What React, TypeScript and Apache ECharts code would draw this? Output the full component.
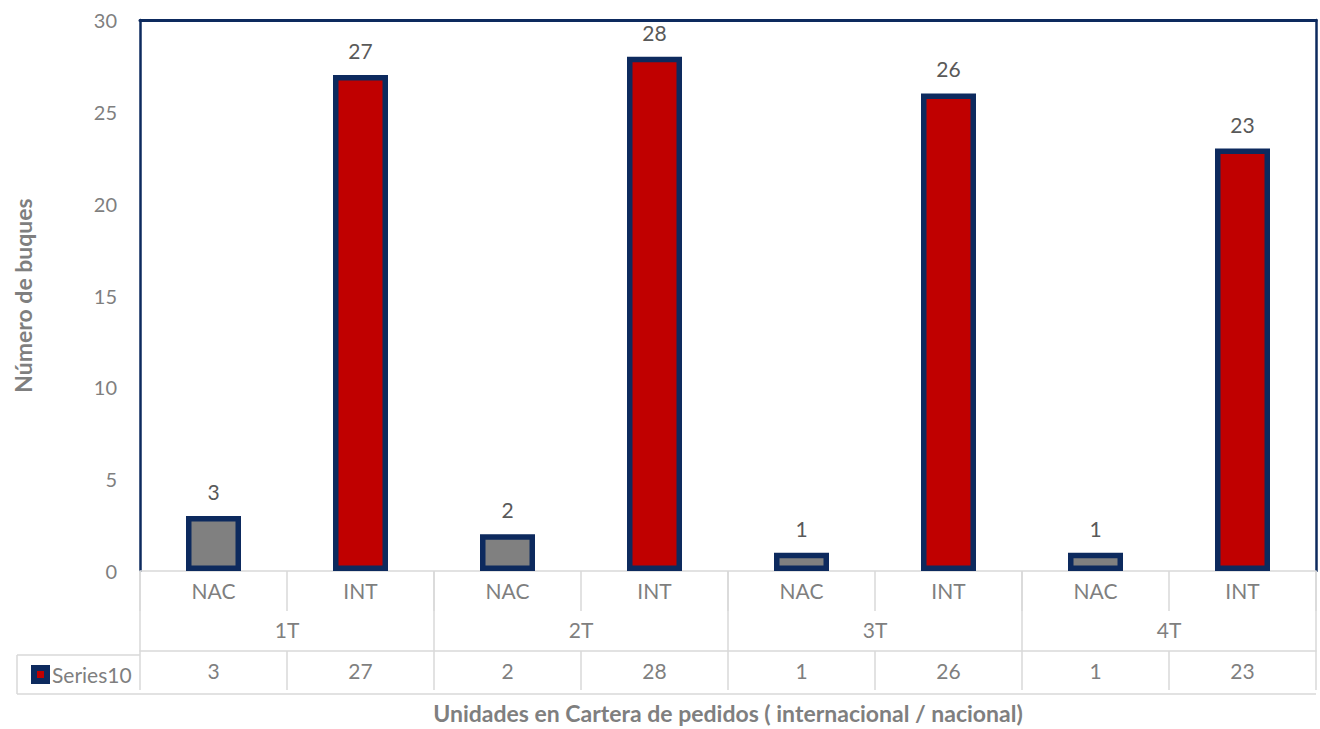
import React, { useEffect, useRef } from "react";
import * as echarts from "echarts";

const categories = ["NAC", "INT", "NAC", "INT", "NAC", "INT", "NAC", "INT"];
const groups = ["1T", "2T", "3T", "4T"];
const values = [3, 27, 2, 28, 1, 26, 1, 23];
const seriesName = "Series10";
const yTicks = { min: 0, max: 30, interval: 5 };

const NAVY = "#0d2a5e";
const RED = "#c00000";
const GREY = "#808080";
const LINE = "#d9d9d9";
const TEXT = "#7f7f7f";
const FONT = "Lato, 'Noto Sans', sans-serif";

export default function App() {
  const ref = useRef<HTMLDivElement>(null);
  useEffect(() => {
    if (!ref.current) return;
    const chart = echarts.init(ref.current, null, { renderer: "svg" });
    const L = 140, R = 1316, T = 20, B = 575;
    const option: any = {
      animation: false,
      backgroundColor: "#ffffff",
      textStyle: { fontFamily: FONT },
      grid: { left: L, right: 1320 - R, top: T, bottom: 729 - B, containLabel: false },
      legend: {
        left: 26,
        top: 659,
        itemWidth: 13,
        itemHeight: 13,
        itemGap: 6,
        icon: "rect",
        data: [
          {
            name: seriesName,
            itemStyle: { color: RED, borderColor: NAVY, borderWidth: 6 },
          },
        ],
        textStyle: { color: TEXT, fontSize: 21, fontFamily: FONT },
      },
      xAxis: [
        {
          type: "category",
          data: categories,
          position: "bottom",
          axisLine: { show: true, lineStyle: { color: LINE, width: 1.5 } },
          axisTick: { show: true, length: 40, lineStyle: { color: LINE, width: 1.5 } },
          axisLabel: { color: TEXT, fontSize: 21, margin: 9, fontFamily: FONT },
          splitLine: { show: false },
        },
        {
          type: "category",
          data: groups,
          position: "bottom",
          axisLine: { show: false },
          axisTick: { show: true, length: 80, lineStyle: { color: LINE, width: 1.5 } },
          axisLabel: { color: TEXT, fontSize: 21, margin: 48, fontFamily: FONT },
          splitLine: { show: false },
        },
        {
          type: "category",
          data: categories,
          position: "bottom",
          offset: 80,
          axisLine: { show: true, lineStyle: { color: LINE, width: 1.5 } },
          axisTick: { show: true, length: 39, lineStyle: { color: LINE, width: 1.5 } },
          axisLabel: {
            color: TEXT,
            fontSize: 21,
            margin: 9,
            fontFamily: FONT,
            formatter: (_v: string, i: number) => String(values[i]),
          },
          name: "Unidades en Cartera de pedidos ( internacional / nacional)",
          nameLocation: "middle",
          nameGap: 50,
          nameTextStyle: { color: TEXT, fontSize: 23, fontWeight: "bold", fontFamily: FONT },
          splitLine: { show: false },
        },
        {
          type: "category",
          data: categories,
          position: "top",
          axisLine: { show: true, lineStyle: { color: NAVY, width: 3 } },
          axisTick: { show: false },
          axisLabel: { show: false },
          splitLine: { show: false },
        },
      ],
      yAxis: [
        {
          type: "value",
          min: yTicks.min,
          max: yTicks.max,
          interval: yTicks.interval,
          axisLine: { show: true, lineStyle: { color: NAVY, width: 2.5 } },
          axisTick: { show: false },
          splitLine: { show: false },
          axisLabel: { color: TEXT, fontSize: 20, margin: 23, fontFamily: FONT },
          name: "Número de buques",
          nameLocation: "middle",
          nameRotate: 90,
          nameGap: 106,
          nameTextStyle: { color: TEXT, fontSize: 23, fontWeight: "bold", fontFamily: FONT },
        },
        {
          type: "value",
          position: "right",
          min: yTicks.min,
          max: yTicks.max,
          interval: yTicks.interval,
          axisLine: { show: true, lineStyle: { color: NAVY, width: 2.5 } },
          axisTick: { show: false },
          splitLine: { show: false },
          axisLabel: { show: false },
        },
      ],
      series: [
        {
          name: seriesName,
          type: "bar",
          xAxisIndex: 0,
          yAxisIndex: 0,
          barWidth: 55,
          itemStyle: { color: RED, borderColor: NAVY, borderWidth: 5.5 },
          data: values.map((v, i) => ({
            value: v,
            itemStyle: { color: categories[i] === "NAC" ? GREY : RED },
          })),
          label: {
            show: true,
            position: "top",
            distance: 14,
            color: "#595959",
            fontSize: 21,
            fontFamily: FONT,
          },
        },
      ],
      graphic: [
        { type: "line", shape: { x1: 17, y1: 655, x2: L, y2: 655 }, style: { stroke: LINE, lineWidth: 1.5 } },
        { type: "line", shape: { x1: 17, y1: 694, x2: R, y2: 694 }, style: { stroke: LINE, lineWidth: 1.5 } },
        { type: "line", shape: { x1: 17, y1: 655, x2: 17, y2: 694 }, style: { stroke: LINE, lineWidth: 1.5 } },
      ],
    };
    chart.setOption(option);
    return () => chart.dispose();
  }, []);
  return (
    <div
      ref={ref}
      style={{ position: "absolute", left: 0, top: 0, width: 1320, height: 729 }}
    />
  );
}
